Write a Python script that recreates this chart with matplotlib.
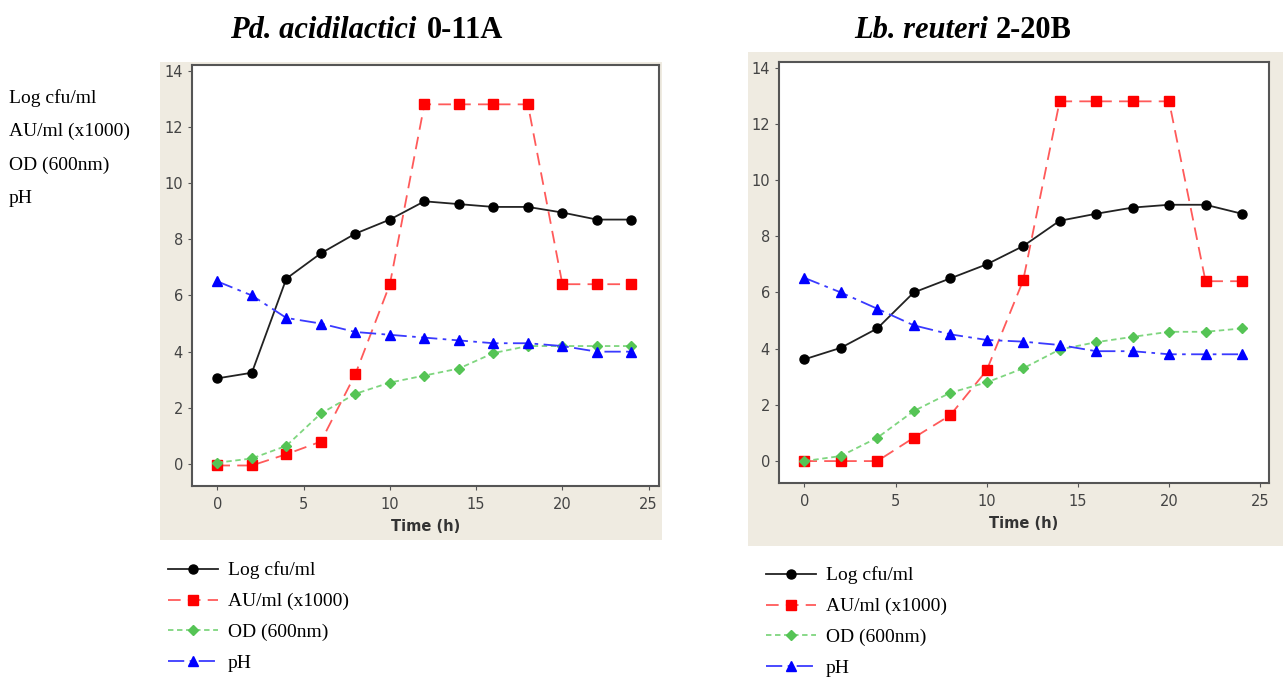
import matplotlib
matplotlib.use("Agg")
import matplotlib.pyplot as plt
from matplotlib.patches import Rectangle
from matplotlib.lines import Line2D

# sampling times (h)
time = [0, 2, 4, 6, 8, 10, 12, 14, 16, 18, 20, 22, 24]

# Pd. acidilactici 0-11A
pdLog = [3.05, 3.25, 6.6, 7.5, 8.2, 8.7, 9.35, 9.25, 9.15, 9.15, 8.95, 8.7, 8.7]
pdAU = [-0.05, -0.05, 0.35, 0.8, 3.2, 6.4, 12.8, 12.8, 12.8, 12.8, 6.4, 6.4, 6.4]
pdOD = [0.05, 0.2, 0.65, 1.8, 2.5, 2.9, 3.15, 3.4, 3.95, 4.2, 4.2, 4.2, 4.2]
pdPH = [6.5, 6.0, 5.2, 5.0, 4.7, 4.6, 4.5, 4.4, 4.3, 4.3, 4.2, 4.0, 4.0]

# Lb. reuteri 2-20B
lbLog = [3.62, 4.03, 4.72, 6.0, 6.5, 7.0, 7.65, 8.55, 8.8, 9.02, 9.12, 9.12, 8.8]
lbAU = [0, 0, 0, 0.83, 1.63, 3.23, 6.43, 12.8, 12.8, 12.8, 12.8, 6.4, 6.4]
lbOD = [0, 0.18, 0.83, 1.78, 2.43, 2.8, 3.3, 3.97, 4.23, 4.42, 4.6, 4.6, 4.72]
lbPH = [6.52, 6.0, 5.42, 4.83, 4.51, 4.31, 4.25, 4.13, 3.91, 3.91, 3.8, 3.8, 3.8]

labels = ["Log cfu/ml", "AU/ml (x1000)", "OD (600nm)", "pH"]
xticks = [0, 5, 10, 15, 20, 25]
yticks = [0, 2, 4, 6, 8, 10, 12, 14]

W, H = 1283, 682
fig = plt.figure(figsize=(W / 100, H / 100), dpi=100)
beige = "#efebe1"
serif = "Liberation Serif"

def px(x, y, w, h):
    # pixel box (top-left origin) -> figure fraction
    return [x / W, 1 - (y + h) / H, w / W, h / H]

# beige panels behind the plots
for x0, y0, w0, h0 in [(160, 62, 502, 478), (748, 52, 535, 494)]:
    b = px(x0, y0, w0, h0)
    fig.patches.append(Rectangle((b[0], b[1]), b[2], b[3], transform=fig.transFigure,
                                 facecolor=beige, edgecolor="none", zorder=-5))

styles = [
    dict(color="#222222", ls="-", marker="o", mfc="black", mec="black", ms=6.5, lw=1.3),
    dict(color="#ff5a5a", ls=(0, (7, 4)), marker="s", mfc="#ff0000", mec="#ff0000", ms=6.5, lw=1.3),
    dict(color="#7fd67f", ls=(0, (3, 2)), marker="D", mfc="#55c455", mec="#55c455", ms=5.5, lw=1.3),
    dict(color="#3a3aff", ls=(0, (9, 3, 2, 3)), marker="^", mfc="#0000ff", mec="#0000ff", ms=7, lw=1.3),
]

def panel(box, xlim, series):
    ax = fig.add_axes(px(*box))
    ax.set_zorder(2)
    for ys, st in zip(series, styles):
        ax.plot(time, ys, **st)
    ax.set_xlim(*xlim)
    ax.set_ylim(-0.78, 14.2)
    ax.set_xticks(xticks)
    ax.set_yticks(yticks)
    ax.tick_params(direction="out", length=3, labelsize=10.5, colors="#555555", labelcolor="#444444")
    ax.tick_params(axis="x", pad=5)
    for s in ax.spines.values():
        s.set_color("#555555")
        s.set_linewidth(1.5)
    ax.set_xlabel("Time (h)", fontsize=10.5, fontweight="bold", color="#333333", labelpad=5)
    return ax

ax1 = panel((192, 65, 467, 421), (-1.47, 25.6), [pdLog, pdAU, pdOD, pdPH])
ax2 = panel((779, 62, 490, 421), (-1.39, 25.48), [lbLog, lbAU, lbOD, lbPH])

# titles: italic species name + bold strain code
fig.text(416 / W, 1 - 30 / H, "Pd. acidilactici", ha="right", va="center", family=serif,
         style="italic", fontweight="bold", fontsize=22)
fig.text(427 / W, 1 - 30 / H, "0-11A", ha="left", va="center", family=serif,
         fontweight="bold", fontsize=22)
fig.text(988 / W, 1 - 31 / H, "Lb. reuteri", ha="right", va="center", family=serif,
         style="italic", fontweight="bold", fontsize=22)
fig.text(996 / W, 1 - 31 / H, "2-20B", ha="left", va="center", family=serif,
         fontweight="bold", fontsize=22)

# y description on the left
for i, lab in enumerate(labels):
    fig.text(9 / W, 1 - (98 + 33.5 * i) / H, lab, ha="left", va="center", family=serif, fontsize=14)

# legends under each panel
handles = [Line2D([], [], **st) for st in styles]
for x0, y0 in [(154, 548), (752, 553)]:
    fig.legend(handles, labels, loc="upper left", bbox_to_anchor=(x0 / W, 1 - y0 / H),
               frameon=False, prop={"family": serif, "size": 14}, handlelength=2.6,
               labelspacing=0.68, handletextpad=0.5, borderpad=0.2)

fig.savefig("out.png", dpi=100)
